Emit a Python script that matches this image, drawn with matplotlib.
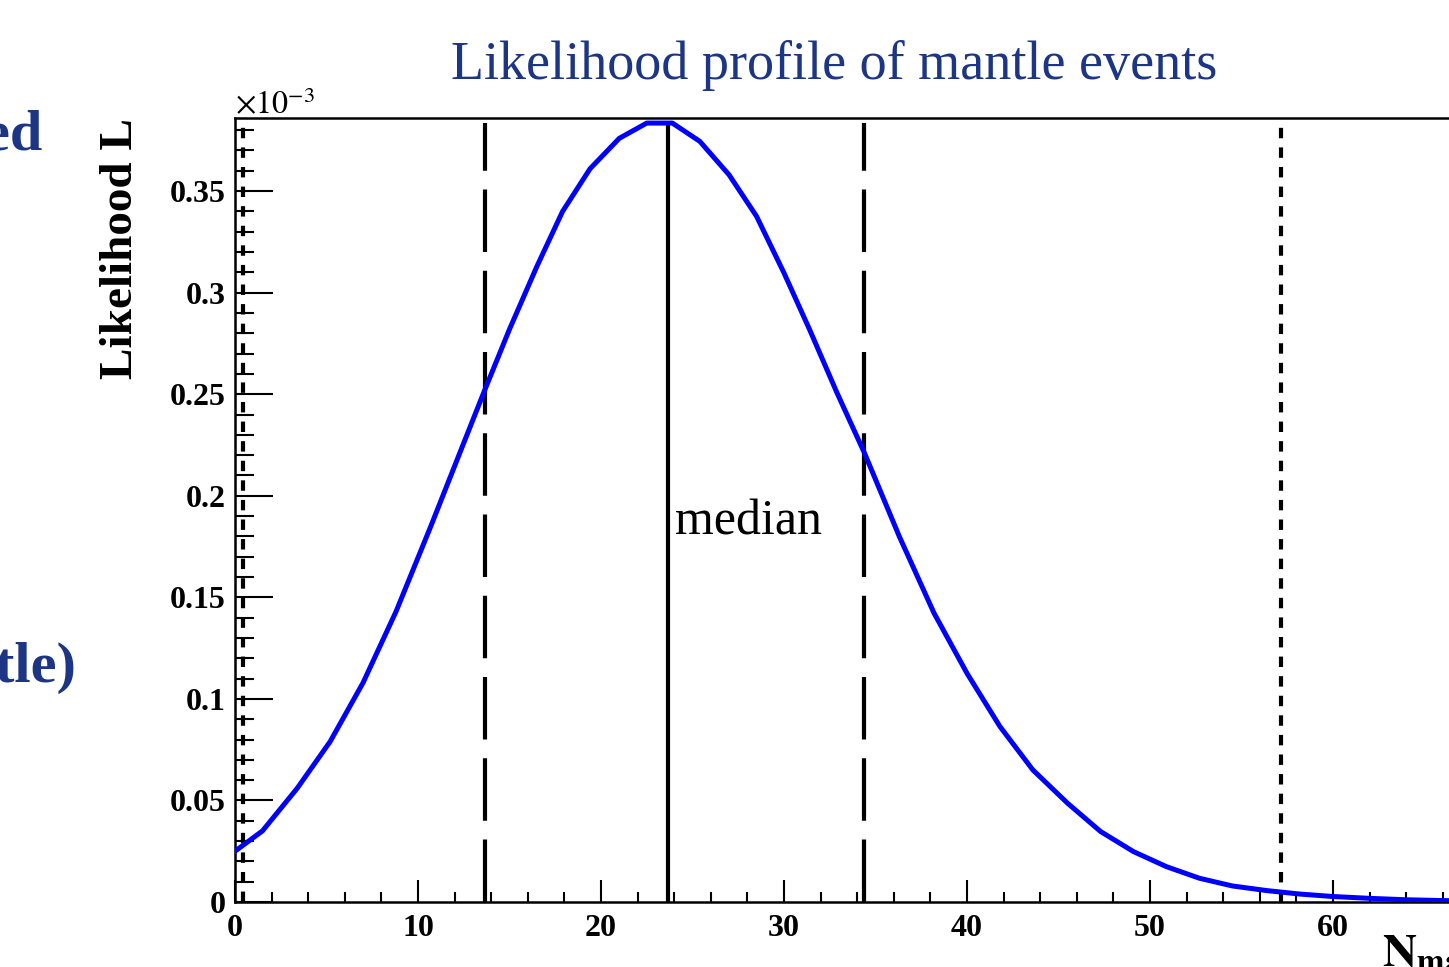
import numpy as np
import matplotlib
matplotlib.use('Agg')
from matplotlib import pyplot as plt
from matplotlib.ticker import MultipleLocator, FuncFormatter

# likelihood profile (L in units of 1e-3)
n_mantle = [0.0, 1.5, 3.4, 5.2, 7.0, 8.8, 10.7, 12.5, 13.6, 15.0, 16.5, 17.9, 19.4,
            21.0, 22.5, 23.9, 25.4, 27.0, 28.5, 30.0, 31.4, 32.9, 34.4, 36.3,
            38.2, 40.0, 41.8, 43.6, 45.5, 47.3, 49.1, 50.9, 52.7, 54.5, 56.4, 58.2,
            60.0, 62.0, 64.0, 66.0, 68.0, 70.0]
likelihood = [0.025, 0.035, 0.056, 0.079, 0.108, 0.143, 0.185, 0.226, 0.251, 0.282,
              0.313, 0.340, 0.361, 0.376, 0.3835, 0.3835, 0.3745, 0.358, 0.3376,
              0.3097, 0.2818, 0.2506, 0.221, 0.180, 0.1422, 0.1126, 0.0864,
              0.065, 0.0486, 0.0347, 0.0248, 0.0174, 0.0117, 0.0079, 0.0056, 0.0039,
              0.0027, 0.0018, 0.0011, 0.0007, 0.0004, 0.0002]

median = 23.66
band = [13.66, 34.37]
limits = [0.45, 57.16]

plt.rcParams['font.family'] = ['Liberation Serif', 'DejaVu Serif']
plt.rcParams['mathtext.fontset'] = 'stix'

W, H = 1449, 967
fig = plt.figure(figsize=(W / 100, H / 100), dpi=100)
ax = fig.add_axes([235 / W, 65 / H, 1281 / W, 784 / H])

top = max(likelihood)
ax.plot(n_mantle, likelihood, color='#0000ff', lw=3.6, zorder=3)
ax.vlines(median, 0, top, color='black', lw=3.0, zorder=2)
for xv in band:
    ax.vlines(xv, 0, top, color='black', lw=3.0, linestyles=(0, (15, 4.5)), zorder=2)
for xv in limits:
    ax.vlines(xv, 0, top, color='black', lw=3.0, linestyles=(0, (2.5, 2.2)), zorder=2)

ax.text(24.05, 0.181, 'median', fontsize=36, color='black', ha='left', va='baseline')

ax.set_xlim(0, 70)
ax.set_ylim(0, 0.386)
ax.xaxis.set_major_locator(MultipleLocator(10))
ax.xaxis.set_minor_locator(MultipleLocator(2))
ax.yaxis.set_major_locator(MultipleLocator(0.05))
ax.yaxis.set_minor_locator(MultipleLocator(0.01))
ax.yaxis.set_major_formatter(FuncFormatter(lambda v, p: f'{v:g}'))
ax.xaxis.set_major_formatter(FuncFormatter(lambda v, p: f'{v:g}'))

for s in ax.spines.values():
    s.set_linewidth(1.8)
ax.tick_params(which='both', direction='in', top=False, right=False, width=1.5)
ax.tick_params(axis='y', which='major', length=27, pad=7)
ax.tick_params(axis='y', which='minor', length=14)
ax.tick_params(axis='x', which='major', length=16, pad=9)
ax.tick_params(axis='x', which='minor', length=7)
for lab in ax.get_xticklabels() + ax.get_yticklabels():
    lab.set_fontsize(23)
    lab.set_fontweight('bold')

ax.set_ylabel('Likelihood L', fontsize=34, fontweight='bold', loc='top', labelpad=20)
ax.text(1.0, -0.04, r'$\mathbf{N_{mantle}}$', transform=ax.transAxes,
        ha='right', va='top', fontsize=34)
fig.text(235 / W, 1 - 114 / H, r'$\times10^{-3}$', fontsize=23, ha='left', va='baseline')

navy = '#1c3584'
fig.text(834 / W, 1 - 79 / H, 'Likelihood profile of mantle events', fontsize=39,
         color=navy, ha='center', va='baseline')
fig.text(42 / W, 1 - 150 / H, 'ed', fontsize=42, fontweight='bold', color=navy,
         ha='right', va='baseline')
fig.text(76 / W, 1 - 682 / H, '(mantle)', fontsize=42, fontweight='bold', color=navy,
         ha='right', va='baseline')

fig.savefig('out.png', dpi=100)
